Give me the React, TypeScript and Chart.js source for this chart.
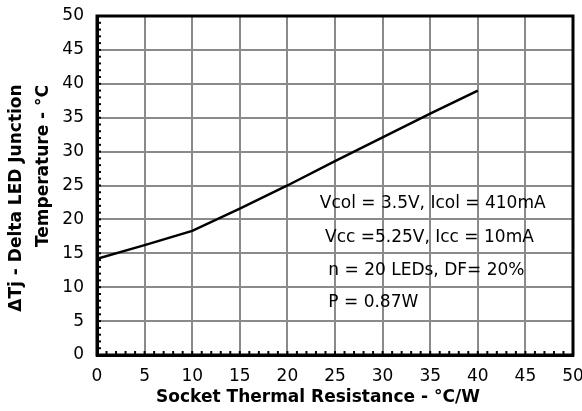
import React, { useEffect, useRef } from "react";
import { Chart, registerables } from "chart.js";

Chart.register(...registerables);

const resistance = [0, 5, 10, 15, 20, 25, 30, 35, 40];
const deltaTj = [14.2, 16.2, 18.3, 21.6, 25, 28.6, 32.1, 35.6, 39];
const notes = [
  "Vcol = 3.5V, Icol = 410mA",
  "Vcc =5.25V, Icc = 10mA",
  "n = 20 LEDs, DF= 20%",
  "P = 0.87W",
];
const xTitle = "Socket Thermal Resistance - °C/W";
const yTitle = ["ΔTj - Delta LED Junction", "Temperature - °C"];

const FONT = "'DejaVu Sans', sans-serif";

const decorPlugin = {
  id: "decor",
  afterDatasetsDraw(chart: any) {
    const { ctx, scales } = chart;
    const xs = scales.x;
    const ys = scales.y;
    ctx.save();
    const anchors = [
      [23.4, 22.4],
      [23.95, 17.25],
      [24.3, 12.5],
      [24.3, 7.8],
    ];
    ctx.fillStyle = "#000";
    ctx.font = `17px ${FONT}`;
    ctx.textAlign = "left";
    ctx.textBaseline = "middle";
    notes.forEach((t, i) => {
      ctx.fillText(t, xs.getPixelForValue(anchors[i][0]), ys.getPixelForValue(anchors[i][1]));
    });
    ctx.restore();
  },
  afterDraw(chart: any) {
    const { ctx, chartArea, scales } = chart;
    const xs = scales.x;
    const ys = scales.y;
    const { left, right, top, bottom } = chartArea;
    ctx.save();
    ctx.strokeStyle = "#000";
    ctx.lineWidth = 2;
    for (let v = 1; v < 50; v++) {
      const px = xs.getPixelForValue(v);
      ctx.beginPath();
      ctx.moveTo(px, bottom);
      ctx.lineTo(px, bottom - 4);
      ctx.stroke();
      const py = ys.getPixelForValue(v);
      ctx.beginPath();
      ctx.moveTo(left, py);
      ctx.lineTo(left + 4, py);
      ctx.stroke();
    }
    ctx.lineWidth = 3;
    ctx.strokeRect(left, top, right - left, bottom - top);
    ctx.fillStyle = "#000";
    ctx.font = `bold 17px ${FONT}`;
    ctx.textAlign = "center";
    ctx.textBaseline = "middle";
    ctx.fillText(xTitle, (left + right) / 2 - 17, 398);
    ctx.save();
    ctx.translate(17, 198);
    ctx.rotate(-Math.PI / 2);
    ctx.fillText(yTitle[0], 0, 0);
    ctx.restore();
    ctx.save();
    ctx.translate(44, 166);
    ctx.rotate(-Math.PI / 2);
    ctx.fillText(yTitle[1], 0, 0);
    ctx.restore();
    ctx.restore();
  },
};

export default function App() {
  const ref = useRef<HTMLCanvasElement>(null);
  useEffect(() => {
    if (!ref.current) return;
    const zeroPad = (s: any) => {
      s.paddingLeft = 0;
      s.paddingRight = 0;
      s.paddingTop = 0;
      s.paddingBottom = 0;
    };
    const chart = new Chart(ref.current, {
      type: "scatter",
      data: {
        datasets: [
          {
            data: resistance.map((x, i) => ({ x, y: deltaTj[i] })),
            showLine: true,
            borderColor: "#000",
            borderWidth: 2.5,
            pointRadius: 0,
            tension: 0,
          },
        ],
      },
      options: {
        animation: false,
        responsive: false,
        layout: { padding: { top: 16, right: 9, left: 0, bottom: 0 } },
        plugins: { legend: { display: false }, tooltip: { enabled: false } },
        scales: {
          x: {
            type: "linear",
            min: 0,
            max: 50,
            afterFit: (s: any) => {
              s.height = 56;
              zeroPad(s);
            },
            ticks: {
              stepSize: 5,
              color: "#000",
              font: { family: FONT, size: 17 },
              padding: 11,
              maxRotation: 0,
            },
            grid: { color: "#8a8a8a", lineWidth: 2, drawTicks: false },
            border: { display: true, color: "#000", width: 3 },
          },
          y: {
            type: "linear",
            min: 0,
            max: 50,
            afterFit: (s: any) => {
              s.width = 97;
              zeroPad(s);
            },
            ticks: {
              stepSize: 5,
              color: "#000",
              font: { family: FONT, size: 17 },
              padding: 13,
            },
            grid: { color: "#8a8a8a", lineWidth: 2, drawTicks: false },
            border: { display: true, color: "#000", width: 3 },
          },
        },
      },
      plugins: [decorPlugin],
    });
    return () => chart.destroy();
  }, []);
  return (
    <div style={{ position: "absolute", left: 0, top: 0, width: 582, height: 411, background: "#fff" }}>
      <canvas ref={ref} width={582} height={411} style={{ display: "block" }} />
    </div>
  );
}
